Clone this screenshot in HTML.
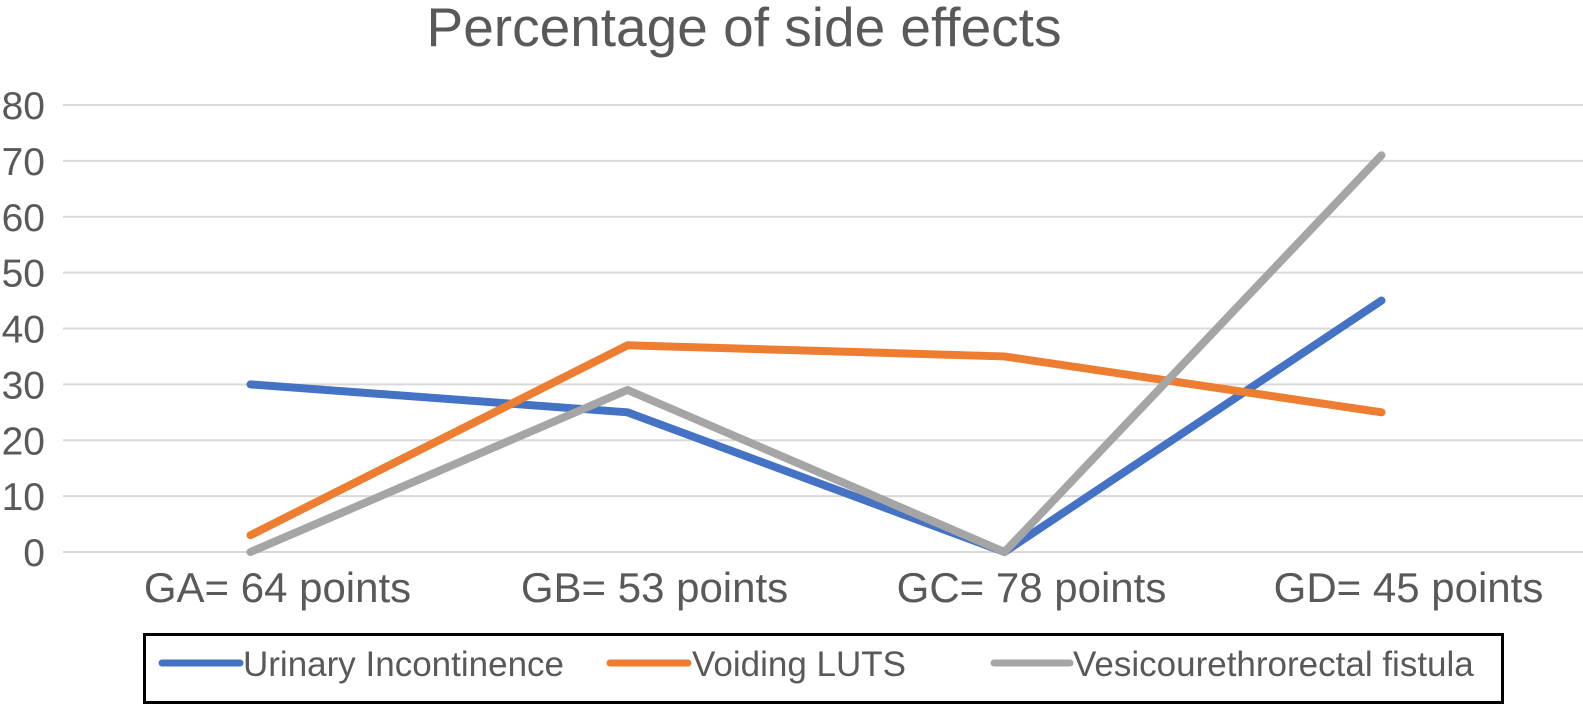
<!DOCTYPE html>
<html><head><meta charset="utf-8"><style>
html,body{margin:0;padding:0;background:#fff;}
svg{display:block;font-family:"Liberation Sans",Arial,sans-serif;}
</style></head><body>
<svg id="chart" width="1583" height="708" viewBox="0 0 1583 708">
<text x="744" y="46" text-anchor="middle" font-size="55" fill="#595959">Percentage of side effects</text>
<g id="grid"></g><g id="ylabels"></g><g id="xlabels"></g><g id="series"></g>
<rect x="144.5" y="634.5" width="1358" height="68" fill="none" stroke="#000" stroke-width="3"/>
<g>
<line x1="162" y1="663" x2="240" y2="663" stroke="#4472c4" stroke-width="7" stroke-linecap="round"/>
<text x="243" y="676" font-size="35" fill="#595959">Urinary Incontinence</text></g>
<g>
<line x1="610" y1="663" x2="688" y2="663" stroke="#ed7d31" stroke-width="7" stroke-linecap="round"/>
<text x="692" y="676" font-size="35" fill="#595959">Voiding LUTS</text></g>
<g>
<line x1="994" y1="663" x2="1070" y2="663" stroke="#a5a5a5" stroke-width="7" stroke-linecap="round"/>
<text x="1073" y="676" font-size="35" fill="#595959">Vesicourethrorectal fistula</text></g>
</svg>
<script>
const categories=["GA= 64 points","GB= 53 points","GC= 78 points","GD= 45 points"];
const urinary=[30,25,0,45];
const voiding=[3,37,35,25];
const fistula=[0,29,0,71];
const yTicks=[0,10,20,30,40,50,60,70,80];
const NS="http://www.w3.org/2000/svg";
function y(v){return 552-v*(447/80);}
function x(i){return 62+377*(i+0.5);}
function mk(t,a,p){const e=document.createElementNS(NS,t);for(const k in a)e.setAttribute(k,a[k]);document.getElementById(p).appendChild(e);return e;}
yTicks.forEach(v=>{
 const l=mk('line',{x1:63,x2:1583,y1:y(v),y2:y(v),stroke:'#d9d9d9','stroke-width':2},'grid');
 
 
 const t=mk('text',{x:45,y:y(v)+14,'text-anchor':'end','font-size':39,fill:'#595959'},'ylabels');
 t.textContent=v;
 
 
});
categories.forEach((c,i)=>{
 const t=mk('text',{x:x(i)+27,y:602,'text-anchor':'middle','font-size':42,fill:'#595959'},'xlabels');
 t.textContent=c;
 
 
});
[[urinary,'#4472c4','urinary-incontinence-line'],[voiding,'#ed7d31','voiding-luts-line'],[fistula,'#a5a5a5','fistula-line']].forEach(([d,c,n])=>{
 const p=mk('polyline',{points:d.map((v,i)=>x(i)+','+y(v)).join(' '),fill:'none',stroke:c,'stroke-width':8,'stroke-linecap':'round','stroke-linejoin':'round'},'series');
 
 
});
</script>
</body></html>
